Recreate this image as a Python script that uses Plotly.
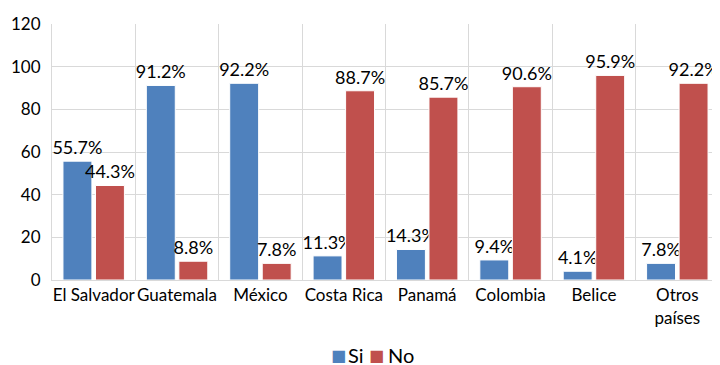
import plotly.graph_objects as go

categories = ["El Salvador", "Guatemala", "México", "Costa Rica", "Panamá", "Colombia", "Belice", "Otros<br>países"]
si_values = [55.7, 91.2, 92.2, 11.3, 14.3, 9.4, 4.1, 7.8]
no_values = [44.3, 8.8, 7.8, 88.7, 85.7, 90.6, 95.9, 92.2]
y_ticks = [0, 20, 40, 60, 80, 100, 120]
series_names = ["Si", "No"]

FONT = "Lato, 'Open Sans', sans-serif"
BLUE = "#4F81BD"
RED = "#C0504D"

fig = go.Figure()
fig.add_trace(go.Bar(
    name=series_names[0], x=categories, y=si_values,
    marker=dict(color=BLUE, line=dict(color="#ffffff", width=1)),
    text=[f"{v:.1f}%" for v in si_values], textposition="outside",
    textfont=dict(size=18, color="#000000", family=FONT), cliponaxis=False,
    constraintext="none", showlegend=False,
))
fig.add_trace(go.Bar(
    name=series_names[1], x=categories, y=no_values,
    marker=dict(color=RED, line=dict(color="#ffffff", width=1)),
    text=[f"{v:.1f}%" for v in no_values], textposition="outside",
    textfont=dict(size=18, color="#000000", family=FONT), cliponaxis=False,
    constraintext="none", showlegend=False,
))

# legend drawn as text: colored square + series name
legend_items = [(series_names[0], BLUE, 0.429, 0.441), (series_names[1], RED, 0.487, 0.501)]
for name, color, xs, xt in legend_items:
    fig.add_annotation(
        xref="paper", yref="paper", x=xs, y=-0.293, xanchor="center", yanchor="middle",
        showarrow=False, font=dict(size=16, family="DejaVu Sans", color=color), text="■",
    )
    fig.add_annotation(
        xref="paper", yref="paper", x=xt, y=-0.293, xanchor="left", yanchor="middle",
        showarrow=False, font=dict(size=20, family=FONT, color="#000000"), text=name,
    )

# page body has an 8px default margin, so the figure is sized/offset to compensate
fig.update_layout(
    width=712, height=357,
    margin=dict(l=44, r=1, t=16, b=85, autoexpand=False),
    paper_bgcolor="white", plot_bgcolor="white",
    barmode="group", bargap=0.22, bargroupgap=0.11,
    font=dict(family=FONT, size=17, color="#000000"),
    showlegend=False,
)
fig.update_xaxes(
    showgrid=True, gridcolor="#d9d9d9", gridwidth=1, tickson="boundaries",
    showline=True, linecolor="#d9d9d9", linewidth=1, ticks="",
    tickfont=dict(size=17), tickangle=0, automargin=False,
)
fig.update_yaxes(
    range=[0, 120], tickvals=y_ticks, showgrid=True, gridcolor="#d9d9d9", gridwidth=1,
    zeroline=False, showline=True, linecolor="#d9d9d9", ticks="",
    tickfont=dict(size=17), ticklabelstandoff=7, automargin=False,
)

fig.write_html("out.html")
